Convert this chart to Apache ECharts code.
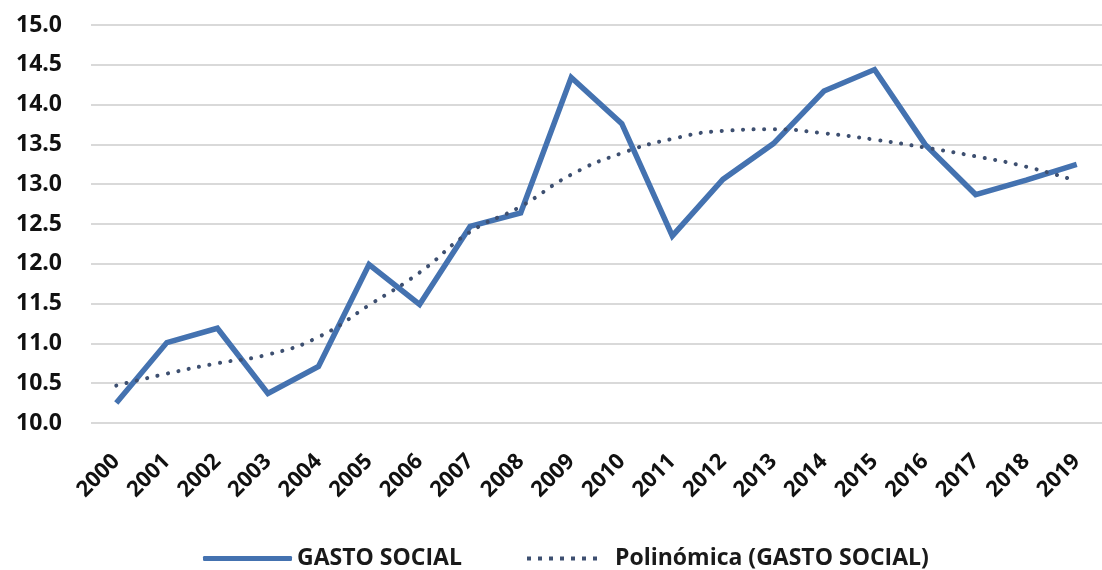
<!DOCTYPE html>
<html>
<head>
<meta charset="utf-8">
<script src="https://cdn.jsdelivr.net/npm/echarts@6/dist/echarts.min.js"></script>
<style>
  html, body { margin: 0; padding: 0; background: #fff; }
  #chart { width: 1102px; height: 570px; }
</style>
</head>
<body>
<div id="chart"></div>
<script>
// años
var years = ['2000','2001','2002','2003','2004','2005','2006','2007','2008','2009',
             '2010','2011','2012','2013','2014','2015','2016','2017','2018','2019'];
// gasto social (% PIB)
var gastoSocial = [10.25, 11.01, 11.19, 10.37, 10.71, 11.99, 11.49, 12.47, 12.64, 14.34,
                   13.76, 12.35, 13.06, 13.51, 14.17, 14.44, 13.50, 12.87, 13.05, 13.25];
// línea de tendencia polinómica
var tendencia = [10.47, 10.62, 10.75, 10.86, 11.08, 11.48, 11.89, 12.40, 12.72, 13.12,
                 13.39, 13.57, 13.67, 13.69, 13.64, 13.56, 13.46, 13.35, 13.22, 13.04];

var fuente = 'Open Sans';
var azul = '#4472b0';
var azulOscuro = '#3d4f70';
// icono de puntos para la leyenda de la tendencia
var iconoPuntos = 'path://M0,0h4v4h-4z M11,0h4v4h-4z M22,0h4v4h-4z M33,0h4v4h-4z M44,0h4v4h-4z M55,0h4v4h-4z M66,0h4v4h-4z';

var chart = echarts.init(document.getElementById('chart'));
chart.setOption({
    backgroundColor: '#ffffff',
    animation: false,
    grid: {
        left: 91,
        top: 25,
        width: 1021,
        bottom: 147
    },
    legend: [
        {
            data: ['GASTO SOCIAL'],
            left: 198,
            top: 542,
            icon: 'roundRect',
            itemWidth: 89,
            itemHeight: 5,
            textStyle: { fontFamily: fuente, fontWeight: 'bold', fontSize: 23, color: '#1a1a1a' }
        },
        {
            data: ['Polinómica (GASTO SOCIAL)'],
            left: 522,
            top: 542,
            icon: iconoPuntos,
            itemWidth: 76,
            itemHeight: 4,
            textStyle: { fontFamily: fuente, fontWeight: 'bold', fontSize: 23, color: '#1a1a1a', padding: [0, 0, 0, 10] }
        }
    ],
    xAxis: {
        type: 'category',
        data: years,
        boundaryGap: true,
        axisLine: { show: false },
        axisTick: { show: false },
        axisLabel: {
            rotate: 45,
            margin: 35,
            interval: 0,
            fontFamily: fuente,
            fontWeight: 'bold',
            fontSize: 22,
            color: '#111'
        }
    },
    yAxis: {
        type: 'value',
        min: 10,
        max: 15,
        interval: 0.5,
        axisLine: { show: false },
        axisTick: { show: false },
        axisLabel: {
            margin: 29,
            fontFamily: fuente,
            fontWeight: 'bold',
            fontSize: 23,
            color: '#111',
            formatter: function (v) { return v.toFixed(1); }
        },
        splitLine: { lineStyle: { color: '#d9d9d9', width: 2 } }
    },
    series: [
        {
            name: 'GASTO SOCIAL',
            type: 'line',
            data: gastoSocial,
            symbol: 'none',
            lineStyle: { color: azul, width: 5.5, join: 'miter' },
            itemStyle: { color: azul },
            z: 2
        },
        {
            name: 'Polinómica (GASTO SOCIAL)',
            type: 'line',
            data: tendencia,
            symbol: 'none',
            smooth: true,
            lineStyle: { color: azulOscuro, width: 4, type: [0.1, 10.5], cap: 'round' },
            itemStyle: { color: azulOscuro },
            z: 3
        }
    ]
});
</script>
</body>
</html>
